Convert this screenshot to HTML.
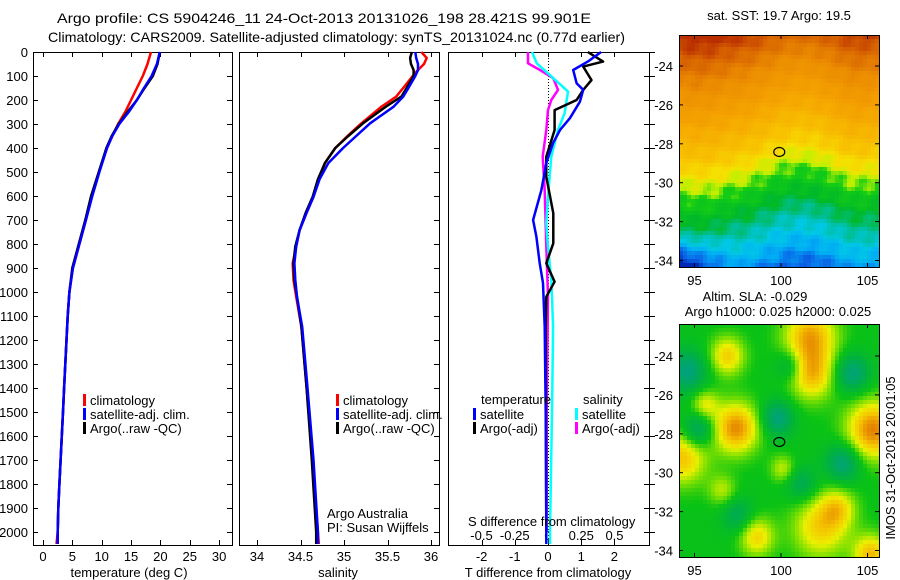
<!DOCTYPE html>
<html><head><meta charset="utf-8">
<style>
html,body{margin:0;padding:0;background:#fff;}
svg{display:block;font-family:"Liberation Sans",sans-serif;}
text{fill:#000;}
</style></head>
<body>
<svg id="chart" width="900" height="580" viewBox="0 0 900 580" xmlns="http://www.w3.org/2000/svg">
<text x="57" y="23" font-size="14" textLength="534" lengthAdjust="spacingAndGlyphs">Argo profile: CS 5904246_11 24-Oct-2013 20131026_198 28.421S 99.901E</text>
<text x="48" y="42" font-size="14" textLength="577" lengthAdjust="spacingAndGlyphs">Climatology: CARS2009. Satellite-adjusted climatology: synTS_20131024.nc (0.77d earlier)</text>
<g id="g-main"></g>
<g id="g-maps"></g>
</svg>
<script>
// ---- data ----
const tDepth = [0,50,100,150,200,250,300,350,400,500,600,700,800,900,1000,1100,1200,1300,1400,1500,1600,1700,1800,1900,2000,2050];
const tClim  = [18.4,17.8,17.0,16.0,15.0,14.0,12.8,11.8,10.9,9.5,8.3,7.3,6.2,5.1,4.5,4.2,4.0,3.8,3.6,3.4,3.2,3.0,2.8,2.6,2.5,2.3];
const tSat   = [19.9,19.4,18.5,17.2,16.0,14.6,13.0,11.8,10.9,9.6,8.4,7.3,6.2,5.1,4.5,4.2,4.0,3.8,3.6,3.4,3.2,3.0,2.8,2.6,2.5,2.5];
const tArgo  = [19.9,19.5,18.7,17.3,16.0,14.4,12.9,11.7,10.8,9.5,8.2,7.2,6.1,5.0,4.5,4.2,4.0,3.8,3.6,3.4,3.2,3.0,2.8,2.6,2.5,2.5];
const sDepth = [0,25,50,75,100,150,186,228,297,350,400,463,530,603,670,742,810,880,950,1020,1145,1400,1700,2000,2050];
const sClim  = [35.89,35.95,35.92,35.85,35.79,35.68,35.6,35.43,35.2,35.04,34.9,34.78,34.71,34.65,34.57,34.49,34.45,34.41,34.42,34.45,34.51,34.57,34.64,34.70,34.71];
const sSat   = [35.82,35.83,35.85,35.85,35.82,35.74,35.68,35.57,35.3,35.14,34.99,34.82,34.72,34.65,34.57,34.49,34.45,34.43,34.44,34.46,34.52,34.58,34.65,34.70,34.70];
const sArgo  = [35.78,35.76,35.77,35.80,35.80,35.72,35.66,35.48,35.22,35.05,34.90,34.78,34.70,34.64,34.56,34.49,34.44,34.42,34.43,34.46,34.51,34.57,34.63,34.68,34.68];
const dtSatDepth  = [0,40,75,130,158,207,276,325,380,463,575,700,770,880,963,1145,1500,2000,2050];
const dtSat       = [1.6,1.2,0.76,0.86,1.06,0.96,0.66,0.36,0.15,-0.05,-0.2,-0.45,-0.35,-0.25,-0.15,-0.1,-0.07,-0.05,-0.05];
const dtArgoDepth = [0,40,61,117,158,200,242,325,436,520,672,797,880,957,1020,1145,1500,2000];
const dtArgo      = [1.2,1.66,1.06,1.31,1.06,0.86,0.2,0.2,-0.05,-0.05,0.16,0.16,-0.05,0.2,-0.05,-0.07,-0.06,-0.05];
const dsSatDepth  = [0,47,103,165,255,325,436,603,714,811,950,1145,1500,2000,2050];
const dsSat       = [-0.12,-0.085,0.028,0.15,0.125,0.075,0.025,0,-0.013,0,0.025,0.038,0.03,0.015,0.015];
const dsArgoDepth = [0,47,75,109,158,200,242,325,436,575,811,1020,1500,2000];
const dsArgo      = [-0.15,-0.15,-0.06,0.04,0.075,0.025,0,-0.013,-0.04,-0.025,-0.013,0,-0.01,-0.01];
const depthTicks = [0,100,200,300,400,500,600,700,800,900,1000,1100,1200,1300,1400,1500,1600,1700,1800,1900,2000];
const tTicks = [0,5,10,15,20,25,30];
const sTicks = [34,34.5,35,35.5,36];
const dtTicks = [-2,-1,0,1,2];
const dsTicks = [-0.5,-0.25,0,0.25,0.5];
const dsTickLabels = ["-0.5","-0.25","0","0.25","0.5"];
const lonTicks = [95,100,105];
const latTicks = [-24,-26,-28,-30,-32,-34];
const sstFrontLon = [94,95,96,97,98,99,100,101,102,103,104,105,106];
const sstFrontLat = [-30.2,-30.4,-30.3,-30.0,-29.8,-29.4,-29.0,-28.8,-28.9,-29.3,-29.8,-29.8,-29.6];
const slaBlobLon = [97.4,101.7,101.8,105.3,94.3,96.9,95.6,102.3,98.6,100.1,96.6,105.2,103.3,95.2,94.6,99.8,104.1,103.6,101.2,100.5,97.5];
const slaBlobLat = [-27.7,-23.0,-25.0,-27.8,-29.2,-24.0,-26.5,-32.8,-33.3,-29.8,-30.9,-34.2,-31.8,-27.8,-24.8,-27.2,-24.9,-29.5,-30.6,-24.5,-32.2];
const slaBlobAmp = [1.35,1.2,1.0,1.4,1.05,0.95,0.7,0.95,0.9,0.6,0.55,1.1,0.7,-0.9,-0.9,-0.9,-0.9,-0.9,-0.6,-0.6,-0.6];
const slaBlobRad = [1.3,1.5,1.3,1.5,1.4,1.0,0.8,1.6,1.0,0.7,0.8,1.0,1.0,0.9,1.1,0.9,1.0,1.0,0.9,0.8,0.9];
const argoLon = 99.9, argoLat = -28.42;

const NS = "http://www.w3.org/2000/svg";
function mk(parent, tag, attrs, txt){
  const e = document.createElementNS(NS, tag);
  for (const k in attrs) e.setAttribute(k, attrs[k]);
  if (txt !== undefined) e.textContent = txt;
  parent.appendChild(e); return e;
}
const gm = document.getElementById('g-main');
const yD = d => 52 + d*0.24;
const xT = t => 43 + t*5.87;
const xS = s => 257 + (s-34)*87;
const xDT = t => 548 + t*33.2;
const xDS = s => 548 + s*133;
const TOP=52, BOT=545;
const panels = [[33,232],[239,439],[448,649]];

depthTicks.forEach(d=>{
  const t = mk(gm,'text',{x:28,y:yD(d)+5,'font-size':13,'text-anchor':'end'}, String(d));
  
  
});
panels.forEach((p,i)=>{
  const r = mk(gm,'rect',{x:p[0]+0.5,y:TOP+0.5,width:p[1]-p[0],height:BOT-TOP,fill:'none',stroke:'#000','stroke-width':1});
  
  
  depthTicks.forEach(d=>{
    const y = Math.round(yD(d))+0.5;
    if (i===0) mk(gm,'line',{x1:p[0],x2:p[0]+5,y1:y,y2:y,stroke:'#000'});
    mk(gm,'line',{x1:p[1]-5,x2:p[1],y1:y,y2:y,stroke:'#000'});
    if (i===2) mk(gm,'line',{x1:p[1],x2:p[1]+6,y1:y,y2:y,stroke:'#000'});
  });
});
function xTicks(vals, fx, labels, ly){
  vals.forEach((v,j)=>{
    const x = Math.round(fx(v))+0.5;
    mk(gm,'line',{x1:x,x2:x,y1:TOP,y2:TOP+5,stroke:'#000'});
    mk(gm,'line',{x1:x,x2:x,y1:BOT-5,y2:BOT,stroke:'#000'});
    const t = mk(gm,'text',{x:fx(v),y:ly,'font-size':13,'text-anchor':'middle'}, labels? labels[j] : String(v));
    
    
  });
}
xTicks(tTicks, xT, null, 561);
xTicks(sTicks, xS, null, 561);
xTicks(dtTicks, xDT, null, 561);
dsTicks.forEach((v,j)=>{
  const t = mk(gm,'text',{x:xDS(v),y:540,'font-size':13,'text-anchor':'middle'}, dsTickLabels[j]);
  
  
});
const z = mk(gm,'line',{x1:xDT(0)+0.5,x2:xDT(0)+0.5,y1:TOP,y2:BOT,stroke:'#000','stroke-dasharray':'1,2'});



function series(depths, vals, fx, color, name){
  const pts = depths.map((d,i)=>fx(vals[i]).toFixed(1)+','+yD(d).toFixed(1)).join(' ');
  const l = mk(gm,'polyline',{points:pts,fill:'none',stroke:color,'stroke-width':2.5,'stroke-linejoin':'round'});
  
  
}
series(tDepth,tClim,xT,'#ff0000','temp-climatology-line');
series(tDepth,tArgo,xT,'#000000','temp-argo-line');
series(tDepth,tSat,xT,'#0000ff','temp-satellite-line');
series(sDepth,sClim,xS,'#ff0000','sal-climatology-line');
series(sDepth,sArgo,xS,'#000000','sal-argo-line');
series(sDepth,sSat,xS,'#0000ff','sal-satellite-line');
series(dsArgoDepth,dsArgo,xDS,'#ff00ff','sdiff-argo-line');
series(dsSatDepth,dsSat,xDS,'#00ffff','sdiff-satellite-line');
series(dtArgoDepth,dtArgo,xDT,'#000000','tdiff-argo-line');
series(dtSatDepth,dtSat,xDT,'#0000ff','tdiff-satellite-line');

function legend(x, y, color, label, name){
  const m = mk(gm,'rect',{x:x,y:y-11,width:3,height:12,fill:color});
  
  
  const t = mk(gm,'text',{x:x+7,y:y,'font-size':13}, label);
  
  
}
legend(83,405,'#ff0000','climatology','legend-climatology');
legend(83,419,'#0000ff','satellite-adj. clim.','legend-satellite-adj');
legend(83,433,'#000000','Argo(..raw -QC)','legend-argo-raw');
legend(336,405,'#ff0000','climatology','legend2-climatology');
legend(336,419,'#0000ff','satellite-adj. clim.','legend2-satellite-adj');
legend(336,433,'#000000','Argo(..raw -QC)','legend2-argo-raw');
legend(473,419,'#0000ff','satellite','legend-t-satellite');
legend(473,433,'#000000','Argo(-adj)','legend-t-argo');
legend(575,419,'#00ffff','satellite','legend-s-satellite');
legend(575,433,'#ff00ff','Argo(-adj)','legend-s-argo');
[['temperature',481,404,'legend-t-heading'],['salinity',583,404,'legend-s-heading'],
 ['Argo Australia',327,518,'credit-argo-australia'],['PI: Susan Wijffels',327,532,'credit-pi'],
 ['S difference from climatology',468,526,'s-diff-axis-title']].forEach(a=>{
  const t = mk(gm,'text',{x:a[1],y:a[2],'font-size':13},a[0]);
  
  
});
[['temperature (deg C)',129,577,'temp-axis-title'],['salinity',338,577,'salinity-axis-title'],
 ['T difference from climatology',548,577,'t-diff-axis-title']].forEach(a=>{
  const t = mk(gm,'text',{x:a[1],y:a[2],'font-size':13,'text-anchor':'middle'},a[0]);
  
  
});

// ---- maps ----
const gp = document.getElementById('g-maps');
const MX0=679, MX1=879;
const xLon = lon => 694.5 + (lon-95)*17.3;
function lerpStops(stops, v){
  if (v<=stops[0][0]) return 'rgb('+stops[0][1].join(',')+')';
  for (let i=1;i<stops.length;i++){
    if (v<=stops[i][0]){
      const a=stops[i-1], b=stops[i], f=(v-a[0])/(b[0]-a[0]);
      return 'rgb('+[0,1,2].map(k=>Math.round(a[1][k]+(b[1][k]-a[1][k])*f)).join(',')+')';
    }
  }
  return 'rgb('+stops[stops.length-1][1].join(',')+')';
}
const sstStops = [[-4.2,[0,40,180]],[-3.6,[10,100,230]],[-3.0,[0,170,245]],[-2.4,[0,200,230]],[-1.8,[0,190,150]],[-1.2,[0,185,40]],[-0.4,[20,205,20]],[0.0,[190,240,0]],[0.5,[245,225,0]],[1.3,[248,195,0]],[2.8,[245,165,0]],[4.5,[235,140,0]],[5.6,[215,100,0]],[6.5,[185,45,0]]];
const slaStops = [[-1,[0,160,130]],[-0.5,[0,175,70]],[0,[10,195,20]],[0.35,[130,225,0]],[0.65,[235,240,0]],[1.0,[245,195,0]],[1.4,[225,120,0]]];

function drawMap(y0, y1, latTopY, name, valFn, stops){
  const yLat = lat => latTopY + (-24 - lat)*19.45;
  const latOf = y => -24 - (y-latTopY)/19.45;
  const lonOf = x => 95 + (x-694.5)/17.3;
  const g = mk(gp,'g',{});
  
  
  const cs = 4;
  for (let y=y0; y<y1; y+=cs){
    for (let x=MX0; x<MX1; x+=cs){
      const v = valFn(lonOf(x+cs/2), latOf(y+cs/2));
      mk(g,'rect',{x:x,y:y,width:Math.min(cs,MX1-x)+0.3,height:Math.min(cs,y1-y)+0.3,fill:lerpStops(stops, v)});
    }
  }
  const fr = mk(gp,'rect',{x:MX0+0.5,y:y0+0.5,width:MX1-MX0,height:y1-y0,fill:'none',stroke:'#000'});
  
  
  latTicks.forEach(l=>{
    const y=yLat(l);
    mk(gp,'line',{x1:MX0,x2:MX0+4,y1:y,y2:y,stroke:'#000'});
    mk(gp,'line',{x1:MX1-4,x2:MX1,y1:y,y2:y,stroke:'#000'});
    const t=mk(gp,'text',{x:673,y:y+5,'font-size':13,'text-anchor':'end'},String(l));
    
    
  });
  lonTicks.forEach(l=>{
    const x=xLon(l);
    mk(gp,'line',{x1:x,x2:x,y1:y0,y2:y0+4,stroke:'#000'});
    mk(gp,'line',{x1:x,x2:x,y1:y1-4,y2:y1,stroke:'#000'});
    const t=mk(gp,'text',{x:x,y:y1+18,'font-size':13,'text-anchor':'middle'},String(l));
    
    
  });
  const c = mk(gp,'ellipse',{cx:xLon(argoLon),cy:yLat(argoLat),rx:5.5,ry:4.5,fill:'none',stroke:'#000','stroke-width':1.2});
  
  
}
function frontAt(lon){
  for (let i=1;i<sstFrontLon.length;i++){
    if (lon<=sstFrontLon[i]){
      const f=(lon-sstFrontLon[i-1])/(sstFrontLon[i]-sstFrontLon[i-1]);
      return sstFrontLat[i-1]+(sstFrontLat[i]-sstFrontLat[i-1])*f;
    }
  }
  return sstFrontLat[sstFrontLat.length-1];
}
drawMap(35,267,66,'sst-map',(lon,lat)=>{
  let t = lat - frontAt(lon);
  if (t<0) t = t*0.68; else t = t*0.85;
  if (lon<97.5 && lat<-32.5) t -= (97.5-lon)*0.35*(-32.5-lat);
  t += 0.3*Math.sin(lon*3.1+lat*2.3)*Math.cos(lat*4.7-lon*1.9);
  return t;
}, sstStops);
drawMap(324,557,356,'sla-map',(lon,lat)=>{
  let v=-0.05;
  for (let i=0;i<slaBlobLon.length;i++){
    const dx=(lon-slaBlobLon[i])/slaBlobRad[i], dy=(lat-slaBlobLat[i])/slaBlobRad[i];
    v += slaBlobAmp[i]*Math.exp(-(dx*dx+dy*dy));
  }
  return v;
}, slaStops);
[['sat. SST: 19.7 Argo: 19.5',779,20,'sst-map-title'],['Altim. SLA: -0.029',755,301,'sla-map-title'],
 ['Argo h1000: 0.025 h2000: 0.025',778,316,'argo-height-title']].forEach(a=>{
  const t = mk(gp,'text',{x:a[1],y:a[2],'font-size':13,'text-anchor':'middle'},a[0]);
  
  
});
const imos = mk(gp,'text',{x:0,y:0,'font-size':13,'text-anchor':'middle',transform:'translate(895,458) rotate(-90)'},'IMOS 31-Oct-2013 20:01:05');


</script>
</body></html>
